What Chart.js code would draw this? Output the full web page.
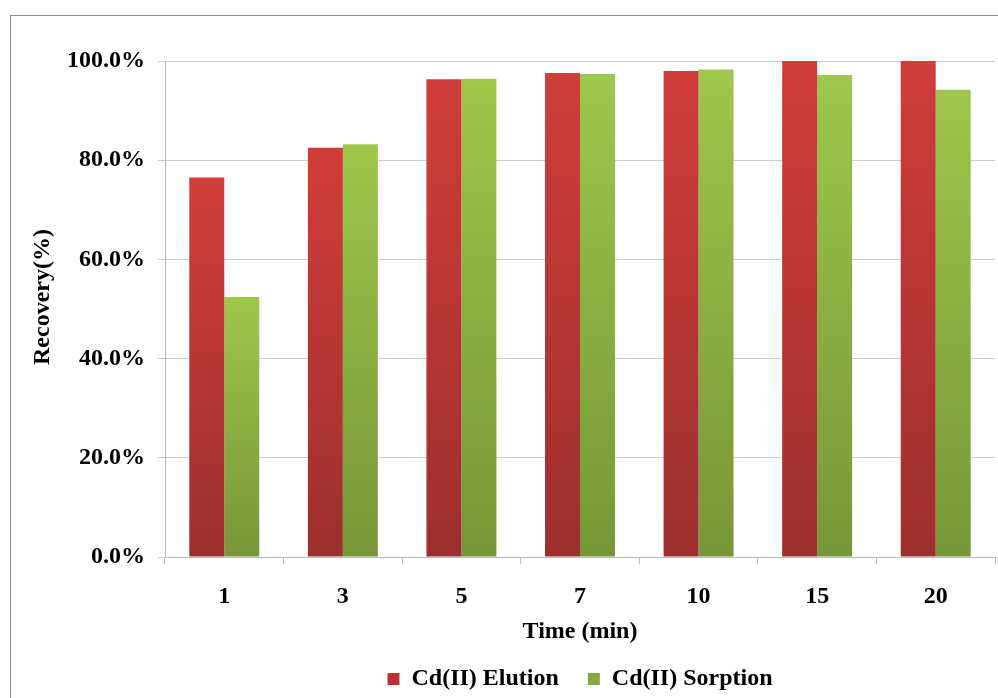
<!DOCTYPE html>
<html>
<head>
<meta charset="utf-8">
<script src="https://cdn.jsdelivr.net/npm/chart.js@4/dist/chart.umd.min.js"></script>
<style>
  html, body { margin: 0; padding: 0; background: #fff; overflow: hidden; }
  #wrap { position: relative; width: 998px; height: 698px; }
  #frame { position: absolute; left: 10px; top: 15px; width: 1000px; height: 700px;
           border: 1px solid #8c8c8c; box-sizing: border-box; pointer-events: none; }
</style>
</head>
<body>
<div id="wrap">
  <canvas id="recoveryChart" width="998" height="698"></canvas>
  <div id="frame"></div>
</div>
<script>
const times = ['1', '3', '5', '7', '10', '15', '20'];
const elution = [76.5, 82.5, 96.3, 97.6, 98.0, 100.0, 100.0];
const sorption = [52.4, 83.2, 96.4, 97.4, 98.3, 97.2, 94.2];
const yTicks = [0, 20, 40, 60, 80, 100];

const serif = 'Liberation Serif, Times New Roman, serif';
const font24 = { family: serif, size: 24, weight: 'bold' };

// gradient per bar, light at top, dark at bottom
function barFill(top, bottom) {
    return function(ctx) {
        const chart = ctx.chart;
        if (!chart.chartArea || ctx.raw === undefined) return top;
        const y = chart.scales.y;
        const y0 = y.getPixelForValue(0);
        const y1 = y.getPixelForValue(ctx.raw);
        if (!isFinite(y0) || !isFinite(y1) || y0 === y1) return top;
        const g = chart.ctx.createLinearGradient(0, y1, 0, y0);
        g.addColorStop(0, top);
        g.addColorStop(1, bottom);
        return g;
    };
}

// center the legend over the plot area, a bit lower
const legendShift = {
    id: 'legendShift',
    afterLayout(chart) {
        const lg = chart.legend;
        lg.left = chart.chartArea.left;
        lg.right = chart.chartArea.right;
        lg.width = lg.right - lg.left;
        lg.top += 3;
        lg.bottom += 3;
    }
};

const ctx = document.getElementById('recoveryChart').getContext('2d');
new Chart(ctx, {
    type: 'bar',
    data: {
        labels: times,
        datasets: [
            { label: 'Cd(II) Elution', data: elution, backgroundColor: barFill('#d03d3a', '#9d2f2e'), borderWidth: 0 },
            { label: 'Cd(II) Sorption', data: sorption, backgroundColor: barFill('#9ec74b', '#779637'), borderWidth: 0 }
        ]
    },
    plugins: [legendShift],
    options: {
        responsive: false,
        animation: false,
        layout: { padding: { top: 61, right: 3, left: 0, bottom: 0 } },
        datasets: { bar: { categoryPercentage: 0.59, barPercentage: 1.0 } },
        plugins: {
            legend: {
                position: 'bottom',
                labels: {
                    boxWidth: 12, boxHeight: 12, padding: 29,
                    color: '#000',
                    font: font24,
                    generateLabels: function(chart) {
                        const cols = ['#b83433', '#86a83f'];
                        return chart.data.datasets.map((d, i) => ({
                            text: d.label,
                            fillStyle: cols[i],
                            strokeStyle: cols[i],
                            lineWidth: 0,
                            datasetIndex: i,
                            fontColor: '#000'
                        }));
                    }
                }
            },
            tooltip: { enabled: false }
        },
        scales: {
            x: {
                grid: { drawOnChartArea: false, drawTicks: true, tickLength: 7, color: '#bdbdbd' },
                border: { color: '#bdbdbd', width: 1 },
                ticks: { color: '#000', padding: 18, font: font24 },
                title: {
                    display: true, text: 'Time (min)', color: '#000',
                    font: font24,
                    padding: { top: 0, bottom: -11 }
                },
                afterFit: function(scale) { scale.height = 78; }
            },
            y: {
                min: 0, max: 100,
                afterBuildTicks: function(scale) { scale.ticks = yTicks.map(v => ({ value: v })); },
                grid: { color: '#cccccc', tickLength: 7 },
                border: { color: '#bdbdbd', width: 1 },
                ticks: {
                    color: '#000', padding: 13,
                    font: font24,
                    callback: v => v.toFixed(1) + '%'
                },
                title: {
                    display: true, text: '    Recovery(%)', color: '#000',
                    font: font24,
                    padding: { top: 28, bottom: 0 }
                },
                afterFit: function(scale) { scale.width = 165; }
            }
        }
    }
});
</script>
</body>
</html>
